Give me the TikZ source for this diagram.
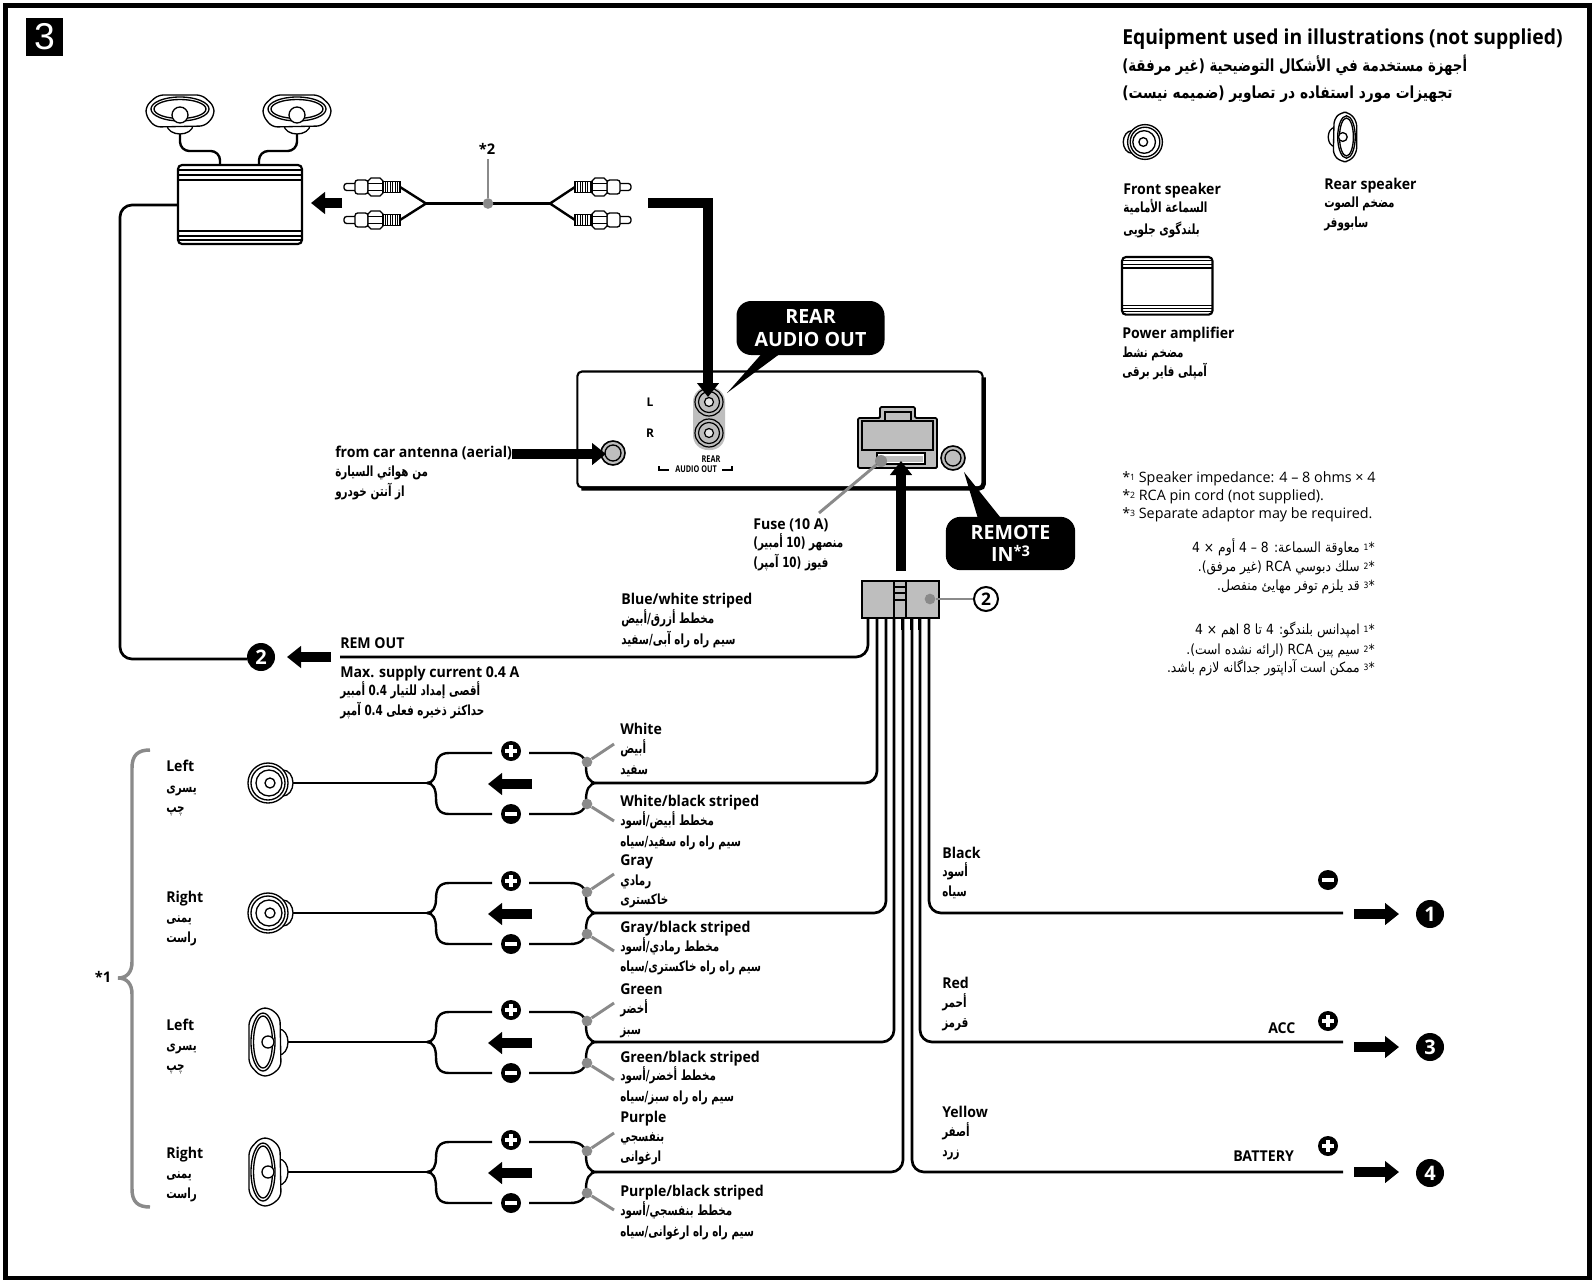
\documentclass[tikz,border=0pt]{standalone}
\usepackage{fontspec}
\usepackage{graphicx}
\usetikzlibrary{arrows.meta,calc}
\TeXXeTstate=1
\setmainfont{Open Sans}
\newfontfamily\arfont[Script=Arabic]{DejaVu Sans}
\newfontfamily\panelfont{Liberation Sans}
\definecolor{ptr}{HTML}{8A8A8A}
\definecolor{gfill}{HTML}{BEBEBE}
\newcounter{tn}
\newcommand\LabE[3]{\stepcounter{tn}\node[anchor=base west,inner sep=0pt,font=\fontsize{11.2}{12}\selectfont\bfseries] (t\thetn) at (#1,#2+5) {\scalebox{0.945}[1]{#3}};}
\newcommand\LabA[3]{\stepcounter{tn}\node[anchor=base west,inner sep=0pt] (t\thetn) at (#1,#2+4) {\scalebox{0.74}[1]{\fontsize{10.5}{12}\arfont\bfseries #3}};}
\newcommand\Tri[7]{\LabE{#1}{#2}{#5}\LabA{#1}{#3}{#6}\LabA{#1}{#4}{#7}}
\newcommand\NN[1]{\beginL #1\endL{}}
\newcommand\SupS[1]{\beginL{\fontsize{6.5}{8}\selectfont\raisebox{.4ex}{#1}}*\endL{}}
\newcommand\FA[2]{\stepcounter{tn}\node[anchor=base east,inner sep=0pt] (t\thetn) at (1375,#1+4) {\scalebox{0.88}[1]{\fontsize{10.5}{12}\arfont #2}};}
\newcommand\FE[3]{\stepcounter{tn}\node[anchor=base west,inner sep=0pt,font=\fontsize{10.75}{12}\selectfont] (t\thetn) at (1122,#1+5) {*{\fontsize{6.5}{8}\selectfont\raisebox{.4ex}{#2}} #3};}
\tikzset{
  wire/.style={draw=black,line width=2pt,rounded corners=9pt},
  thinwire/.style={draw=black,line width=1.8pt},
  pointer/.style={draw=ptr,line width=2.2pt},
  dotp/.style={circle,fill=ptr,inner sep=0pt,minimum size=8pt},
  fat/.style={line width=7.5pt,-{Triangle[length=10.5pt,width=16pt]}},
  outl/.style={draw=black,line width=1pt,fill=white},
  numc/.style={circle,fill=black,text=white,inner sep=0pt,minimum size=21pt,font=\fontsize{15}{15}\selectfont\bfseries},
  symc/.style={circle,fill=black,inner sep=0pt,minimum size=15pt},
  callout/.style={fill=black,rounded corners=11pt,text=white,align=center,inner sep=0pt,font=\fontsize{14.7}{17}\selectfont\bfseries},
  frontspk/.pic={
    \draw[outl] (15,0) ellipse [x radius=10,y radius=13];
    \draw[outl] (0,0) circle [radius=20];
    \draw[outl] (0,0) circle [radius=17];
    \draw[outl] (1,0) circle [radius=13];
    \draw[outl] (2,0) circle [radius=5];
  },
  rearspk/.pic={
    \draw[outl] (14,0) ellipse [x radius=9,y radius=13];
    \draw[outl,rounded corners=4pt] (-5,-34) -- (5,-34) -- (15,-25) -- (16,25) -- (5,34) -- (-5,34) -- (-16,22) -- (-16,-22) -- cycle;
    \draw[outl] (-2,0) ellipse [x radius=12,y radius=29];
    \draw[outl] (-2,0) ellipse [x radius=9.5,y radius=26];
    \draw[outl] (3,0) circle [radius=6];
  },
  ampbody/.pic={
    \draw[draw=black,line width=1.6pt,fill=white,rounded corners=3pt] (0,0) rectangle (124,79);
    \foreach \q in {5,10,15,66,71,75} \draw[draw=black,line width=1pt] (0,\q) -- (124,\q);
  },
  rca/.pic={
    \draw[outl,rounded corners=2pt] (-56,-3.5) rectangle (-42,3.5);
    \draw[outl,rounded corners=2pt] (-45,-7) rectangle (-32,7);
    \draw[outl] (-17,-6) -- (-20,-9) -- (-29,-9) -- (-32,-6) -- (-32,6) -- (-29,9) -- (-20,9) -- (-17,6) -- cycle;
    \draw[draw=black,line width=.6pt] (-32,-3.5) -- (-17,-3.5) (-32,3.5) -- (-17,3.5);
    \draw[outl] (-17,-5.5) rectangle (0,5.5);
    \foreach \q in {-15,-12.5,...,-1} \draw[draw=black,line width=.7pt] (\q,-5.5) -- (\q,5.5);
  },
  jack/.pic={
    \draw[draw=black,line width=1.2pt,fill=gfill] (0,0) circle [radius=12];
    \draw[draw=black,line width=1pt,fill=gfill] (0,0) circle [radius=8];
  },
  rjack/.pic={
    \draw[draw=black,line width=.9pt,fill=gfill] (0,0) circle [radius=14];
    \draw[draw=black,line width=.9pt,fill=gfill] (0,0) circle [radius=10.5];
    \draw[draw=black,line width=.9pt,fill=gfill!40] (0,0) circle [radius=4.5];
  },
}
\begin{document}
\begin{tikzpicture}[x=0.75pt,y=-0.75pt]
\useasboundingbox (0,0) rectangle (1594,1280);
\fill[white] (0,0) rectangle (1594,1280);
\draw[draw=black,line width=3.75pt] (5.5,5.5) rectangle (1589.5,1278);
% panel number
\node[fill=black,text=white,inner sep=0pt,minimum width=27.7pt,minimum height=28.5pt,font=\fontsize{28}{28}\panelfont] (panel) at (44.5,37) {3};

% legend
\node[anchor=base west,inner sep=0pt,font=\fontsize{15.5}{18}\selectfont\bfseries] (legtitle) at (1122,45) {\scalebox{0.935}[1]{Equipment used in illustrations (not supplied)}};
\node[anchor=base west,inner sep=0pt] (legar1) at (1122,72) {\scalebox{0.80}[1]{\fontsize{12.5}{15}\arfont\bfseries\beginR أجهزة مستخدمة في الأشكال التوضيحية (غير مرفقة)\endR}};
\node[anchor=base west,inner sep=0pt] (legar2) at (1122,99) {\scalebox{0.825}[1]{\fontsize{12.5}{15}\arfont\bfseries\beginR تجهيزات مورد استفاده در تصاوير (ضميمه نيست)\endR}};
\pic[scale=.87,xscale=-1] (legfront) at (1145,142) {frontspk};
\pic[scale=.73,xscale=-1] (legrear) at (1345,137) {rearspk};
\pic[xscale=.73,yscale=.73] (legamp) at (1122,257) {ampbody};
\Tri{1123}{190}{209}{230}{Front speaker}{\beginR السماعة الأمامية\endR}{\beginR بلندگوى جلويى\endR}
\Tri{1324}{185}{204}{224}{Rear speaker}{\beginR مضخم الصوت\endR}{\beginR سابووفر\endR}
\Tri{1122}{333}{353}{372}{Power amplifier}{\beginR مضخم نشط\endR}{\beginR آمپلى فاير برقى\endR}

% footnotes
\FE{477}{1}{Speaker impedance: 4 – 8 ohms × 4}
\FE{495}{2}{RCA pin cord (not supplied).}
\FE{513}{3}{Separate adaptor may be required.}
\FA{548}{\beginR\SupS{1} معاوقة السماعة: \NN{4 – 8} أوم × \NN{4}\endR}
\FA{567}{\beginR\SupS{2} سلك دبوسي \NN{RCA} (غير مرفق).\endR}
\FA{586}{\beginR\SupS{3} قد يلزم توفر مهايئ منفصل.\endR}
\FA{630}{\beginR\SupS{1} امپدانس بلندگو: \NN{4} تا \NN{8} اهم × \NN{4}\endR}
\FA{650}{\beginR\SupS{2} سيم پين \NN{RCA} (ارائه نشده است).\endR}
\FA{668}{\beginR\SupS{3} ممكن است آداپتور جداگانه لازم باشد.\endR}

% top speakers and amplifier
\pic[rotate=-90] (spkA) at (180,111) {rearspk};
\pic[rotate=-90] (spkB) at (297,111) {rearspk};
\draw[outl] (180,115) circle [radius=8];
\draw[outl] (297,115) circle [radius=8];
\coordinate (spkAout) at (180,134);
\coordinate (spkBout) at (297,134);
\coordinate (ampinA) at (220,165);
\coordinate (ampinB) at (259,165);
\draw[thinwire,rounded corners=7pt] (spkAout) -- (180,151) -- (220,151) -- (ampinA);
\draw[thinwire,rounded corners=7pt] (spkBout) -- (297,151) -- (259,151) -- (ampinB);
\pic (ampmain) at (178,165) {ampbody};
\coordinate (ampleft) at (178,205);
\coordinate (remc) at (247,659);
\draw[wire] (ampleft) -- (120,205) -- (120,659) -- (remc);
\coordinate (ampar1) at (342,203);
\coordinate (ampar2) at (311,203);
\draw[fat] (ampar1) -- (ampar2);

% RCA cord
\coordinate (rcaL1) at (400,187);
\coordinate (rcaL2) at (400,220);
\coordinate (rcaR1) at (575,187);
\coordinate (rcaR2) at (575,220);
\coordinate (joinL) at (426,203.5);
\coordinate (joinR) at (550,203.5);
\pic at (rcaL1) {rca};
\pic at (rcaL2) {rca};
\pic[xscale=-1] at (rcaR1) {rca};
\pic[xscale=-1] at (rcaR2) {rca};
\draw[thinwire,line join=round] (rcaL1) -- (joinL) -- (rcaL2);
\draw[thinwire,line join=round] (rcaR1) -- (joinR) -- (rcaR2);
\draw[thinwire] (joinL) -- (joinR);
\node[dotp] (cdot) at (488,203.5) {};
\coordinate (cdottop) at (488,159);
\draw[pointer] (cdot) -- (cdottop);
\node[inner sep=0pt,font=\fontsize{11}{12}\selectfont\bfseries] (star2) at (487,149) {*2};

% head unit
\node[draw=black,line width=1.6pt,fill=white,rounded corners=3.5pt,minimum width=304pt,minimum height=87pt,inner sep=0pt] (unit) at (780,429.5) {};
\draw[draw=black,line width=3.2pt,rounded corners=3.5pt] ($(unit.south west)+(5,0)$) -- (unit.south east) -- ($(unit.north east)+(0,7)$);
\fill[gfill,rounded corners=11pt] (693,387) rectangle (725,450);
\pic at (709,402) {rjack};
\pic at (709,433) {rjack};
\node[inner sep=0pt,font=\fontsize{9}{10}\selectfont\bfseries] (lblL) at (650,402) {L};
\node[inner sep=0pt,font=\fontsize{9}{10}\selectfont\bfseries] (lblR) at (650,433) {R};
\node[inner sep=0pt,font=\fontsize{7}{8}\selectfont\bfseries] (lblrear) at (711,459) {\scalebox{.78}[1]{REAR}};
\node[inner sep=0pt,font=\fontsize{7}{8}\selectfont\bfseries] (lblout) at (696,469.5) {\scalebox{.78}[1]{AUDIO OUT}};
\draw[draw=black,line width=.8pt] (659,466) -- (659,470) -- (669,470);
\draw[draw=black,line width=.8pt] (722,470) -- (732,470) -- (732,466);
\pic (antjack) at (613,453) {jack};
\pic (remjack) at (953,458) {jack};
% socket
\draw[draw=black,line width=1.4pt,fill=gfill,rounded corners=1pt] (858,418) -- (880,418) -- (880,407) -- (915,407) -- (915,418) -- (937,418) -- (937,468) -- (858,468) -- cycle;
\draw[draw=black,line width=1pt,fill=gfill] (885,412) rectangle (911,421);
\draw[draw=black,line width=1pt] (862,421) rectangle (933,450);
\draw[draw=black,line width=1.2pt,fill=white] (877,453) rectangle (925,464);
\fill[gfill] (880,455.5) rectangle (922.5,462);
\node[dotp,minimum size=9pt] (fusedot) at (881,461) {};

% callouts
\node[callout,minimum width=111pt,minimum height=40.5pt] (rearbox) at (810.5,328) {REAR\\AUDIO OUT};
\coordinate (reartip) at (727,393);
\fill[black] (765,350) -- (785,350) -- (reartip) -- cycle;
\node[callout,minimum width=97pt,minimum height=40pt] (rembox) at (1010.5,543.5) {REMOTE\\IN{\fontsize{11}{11}\selectfont\raisebox{.7ex}{*3}}};
\coordinate (remtip) at (964,472);
\fill[black] (979,522) -- (1004,522) -- (remtip) -- cycle;

% fat arrows into unit
\coordinate (audstart) at (648,203);
\coordinate (audtip) at (708,397);
\draw[fat] (audstart) -| (audtip);
\coordinate (antstart) at (512,454);
\coordinate (anttip) at (606,454);
\draw[fat] (antstart) -- (anttip);
\coordinate (connup) at (901,571);
\coordinate (conntip) at (901,461);
\draw[fat] (connup) -- (conntip);
\coordinate (fuselab) at (819,513);
\draw[pointer] (fusedot) -- (fuselab);

\LabE{335}{452}{from car antenna (aerial)}
\LabA{335}{472}{\beginR من هوائي السيارة\endR}
\LabA{335}{492}{\beginR از آنتن خودرو\endR}
\Tri{753}{524}{543}{563}{Fuse (10 A)}{\beginR منصهر (\NN{10} أمبير)\endR}{\beginR فيوز (\NN{10} آمپر)\endR}

% connector
\foreach \wx in {868,877,886,894,902,911,919,929}
  \draw[draw=black,line width=2pt] (\wx,618) -- (\wx,630);
\draw[draw=black,line width=1.8pt,fill=gfill] (862,581) rectangle (939,618);
\draw[draw=black,line width=1.2pt] (894,581) -- (894,618) (906,581) -- (906,618);
\draw[draw=black,line width=1.2pt] (894,587) -- (906,587) (894,593) -- (906,593) (894,600) -- (906,600);
\node[dotp] (cdotb) at (930,599) {};
\node[circle,draw=black,line width=1.5pt,fill=white,inner sep=0pt,minimum size=18pt,font=\fontsize{13}{13}\selectfont\bfseries] (ref2) at (986,599) {2};
\draw[pointer] (cdotb) -- (ref2);

% REM OUT
\coordinate (wb) at (868,618);
\coordinate (remend) at (340,657);
\draw[wire] (wb) |- (remend);
\node[numc] (n2) at (261,657) {2};
\coordinate (remarA) at (331,657);
\coordinate (remarB) at (287,657);
\draw[fat] (remarA) -- (remarB);
\LabE{340}{643}{REM OUT}
\Tri{340}{672}{691}{711}{Max. supply current 0.4 A}{\beginR أقصى إمداد للتيار \NN{0.4} أمبير\endR}{\beginR حداكثر ذخيره فعلى \NN{0.4} آمپر\endR}
\Tri{621}{599}{619}{640}{Blue/white striped}{\beginR مخطط أزرق/أبيض\endR}{\beginR سيم راه راه آبى/سفيد\endR}

% speaker rows
\foreach \i/\y/\vx/\sx in {1/783/877/293,2/913/886/293,3/1042/894/288,4/1172/903/288}{
  \coordinate (conn\i) at (\vx,618);
  \coordinate (joint\i) at (597,\y);
  \coordinate (spk\i) at (\sx,\y);
  \coordinate (fork\i) at (427,\y);
  \draw[wire] (conn\i) |- (joint\i);
  \draw[thinwire] (spk\i) -- (fork\i);
  \draw[thinwire] (fork\i) .. controls (433,\y) and (436,\y-6) .. (436,\y-14) .. controls (436,\y-24) and (439,\y-30) .. (449,\y-30) -- (492,\y-30);
  \draw[thinwire] (fork\i) .. controls (433,\y) and (436,\y+6) .. (436,\y+15) .. controls (436,\y+25) and (439,\y+31) .. (449,\y+31) -- (492,\y+31);
  \draw[thinwire] (529,\y-30) -- (570,\y-30) .. controls (580,\y-30) and (586,\y-26) .. (586,\y-16) .. controls (586,\y-7) and (589,\y) .. (joint\i);
  \draw[thinwire] (529,\y+31) -- (570,\y+31) .. controls (580,\y+31) and (586,\y+27) .. (586,\y+17) .. controls (586,\y+7) and (589,\y) .. (joint\i);
  \node[symc] (plus\i) at (511,\y-32) {};
  \draw[draw=white,line width=3pt] ($(plus\i)+(-6,0)$) -- ($(plus\i)+(6,0)$) ($(plus\i)+(0,-6)$) -- ($(plus\i)+(0,6)$);
  \node[symc] (minus\i) at (511,\y+31) {};
  \draw[draw=white,line width=3pt] ($(minus\i)+(-6,0)$) -- ($(minus\i)+(6,0)$);
  \coordinate (arA\i) at (532,\y+1);
  \coordinate (arB\i) at (488,\y+1);
  \draw[fat] (arA\i) -- (arB\i);
  \node[dotp] (pdot\i) at (587,\y-21) {};
  \coordinate (pend\i) at (614,\y-39);
  \draw[pointer] (pdot\i) -- (pend\i);
  \node[dotp] (mdot\i) at (587,\y+21) {};
  \coordinate (mend\i) at (614,\y+38);
  \draw[pointer] (mdot\i) -- (mend\i);
}
\pic at (268,783) {frontspk};
\pic at (268,913) {frontspk};
\pic at (265,1042) {rearspk};
\pic at (265,1172) {rearspk};

\Tri{620}{729}{749}{770}{White}{\beginR أبيض\endR}{\beginR سفيد\endR}
\Tri{620}{801}{821}{842}{White/black striped}{\beginR مخطط أبيض/أسود\endR}{\beginR سيم راه راه سفيد/سياه\endR}
\Tri{620}{860}{881}{900}{Gray}{\beginR رمادي\endR}{\beginR خاكسترى\endR}
\Tri{620}{927}{947}{967}{Gray/black striped}{\beginR مخطط رمادي/أسود\endR}{\beginR سيم راه راه خاكسترى/سياه\endR}
\Tri{620}{989}{1009}{1030}{Green}{\beginR أخضر\endR}{\beginR سبز\endR}
\Tri{620}{1057}{1076}{1097}{Green/black striped}{\beginR مخطط أخضر/أسود\endR}{\beginR سيم راه راه سبز/سياه\endR}
\Tri{620}{1117}{1137}{1157}{Purple}{\beginR بنفسجي\endR}{\beginR ارغوانى\endR}
\Tri{620}{1191}{1211}{1232}{Purple/black striped}{\beginR مخطط بنفسجي/أسود\endR}{\beginR سيم راه راه ارغوانى/سياه\endR}

\Tri{166}{766}{788}{808}{Left}{\beginR يسرى\endR}{\beginR چپ\endR}
\Tri{166}{897}{918}{938}{Right}{\beginR يمنى\endR}{\beginR راست\endR}
\Tri{166}{1025}{1046}{1066}{Left}{\beginR يسرى\endR}{\beginR چپ\endR}
\Tri{166}{1153}{1174}{1194}{Right}{\beginR يمنى\endR}{\beginR راست\endR}

% brace
\coordinate (brTop) at (150,750);
\coordinate (brBot) at (150,1207);
\coordinate (brTip) at (118,978);
\draw[draw=ptr,line width=2.6pt] (brTop) .. controls (138,750) and (132,755) .. (132,768) -- (132,962) .. controls (132,972) and (127,978) .. (brTip) .. controls (127,978) and (132,984) .. (132,994) -- (132,1189) .. controls (132,1202) and (138,1207) .. (brBot);
\node[inner sep=0pt,font=\fontsize{11}{12}\selectfont\bfseries] (star1) at (103,977) {*1};

% right-hand wires
\foreach \i/\vx/\y/\ay/\cn/\cy in {5/929/913/914/1/914,6/920/1042/1047/3/1047,7/912/1172/1172/4/1173}{
  \coordinate (conn\i) at (\vx,618);
  \coordinate (wend\i) at (1343,\y);
  \draw[wire] (conn\i) |- (wend\i);
  \coordinate (arA\i) at (1354,\ay);
  \coordinate (arB\i) at (1399,\ay);
  \draw[fat] (arA\i) -- (arB\i);
  \node[numc] (n\cn) at (1430,\cy) {\cn};
}
\node[symc] (mblack) at (1328,880) {};
\draw[draw=white,line width=3pt] ($(mblack)+(-6,0)$) -- ($(mblack)+(6,0)$);
\node[symc] (pred) at (1328,1021) {};
\draw[draw=white,line width=3pt] ($(pred)+(-6,0)$) -- ($(pred)+(6,0)$) ($(pred)+(0,-6)$) -- ($(pred)+(0,6)$);
\node[symc] (pyel) at (1328,1146) {};
\draw[draw=white,line width=3pt] ($(pyel)+(-6,0)$) -- ($(pyel)+(6,0)$) ($(pyel)+(0,-6)$) -- ($(pyel)+(0,6)$);
\Tri{942}{853}{872}{892}{Black}{\beginR أسود\endR}{\beginR سياه\endR}
\Tri{942}{983}{1003}{1023}{Red}{\beginR أحمر\endR}{\beginR قرمز\endR}
\Tri{942}{1112}{1132}{1152}{Yellow}{\beginR أصفر\endR}{\beginR زرد\endR}
\LabE{1268}{1028}{ACC}
\LabE{1233}{1156}{BATTERY}
\end{tikzpicture}
\end{document}
